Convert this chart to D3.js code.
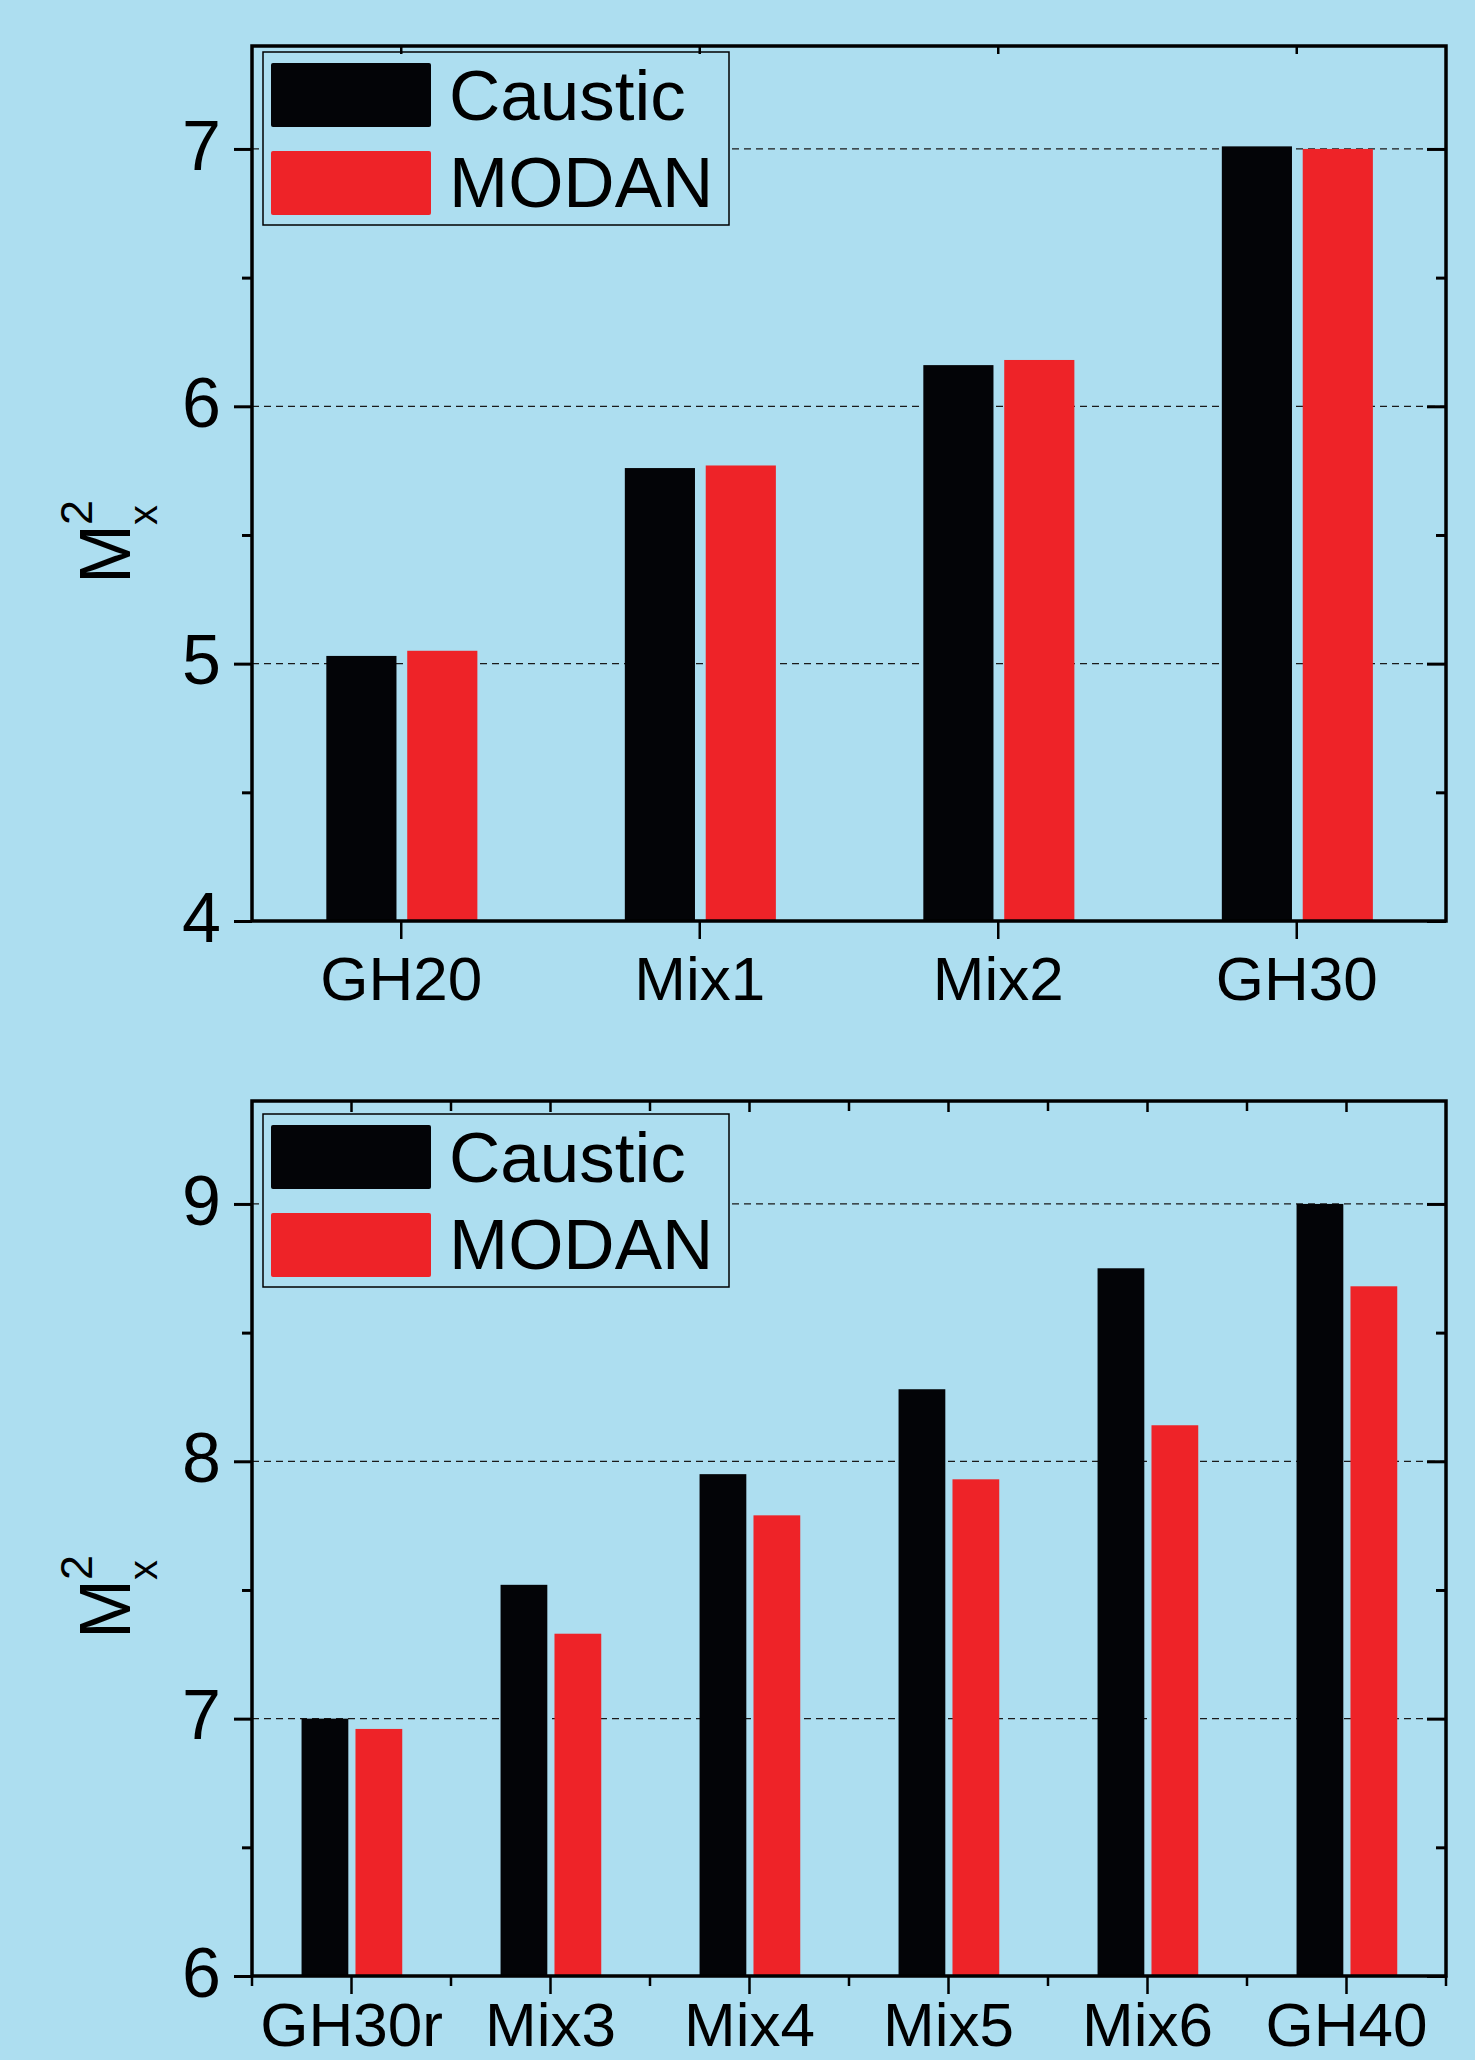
<!DOCTYPE html>
<html><head><meta charset="utf-8">
<script src="https://cdn.jsdelivr.net/npm/d3@7"></script>
<style>html,body{margin:0;padding:0;background:#ADDEF0;} svg{display:block}</style>
</head><body><svg id="c" width="1475" height="2060"></svg>
<script>
const seriesNames = ["Caustic", "MODAN"];
const seriesColors = ["#030407", "#EE2328"];

const topCategories = ["GH20", "Mix1", "Mix2", "GH30"];
const topCaustic = [5.03, 5.76, 6.16, 7.01];
const topModan = [5.05, 5.77, 6.18, 7.00];
const topDomain = [4, 7.4];
const topMajorTicks = [4, 5, 6, 7];
const topMinorTicks = [4.5, 5.5, 6.5];
const topGrid = [5, 6, 7];

const botCategories = ["GH30r", "Mix3", "Mix4", "Mix5", "Mix6", "GH40"];
const botCaustic = [7.00, 7.52, 7.95, 8.28, 8.75, 9.00];
const botModan = [6.96, 7.33, 7.79, 7.93, 8.14, 8.68];
const botDomain = [6, 9.4];
const botMajorTicks = [6, 7, 8, 9];
const botMinorTicks = [6.5, 7.5, 8.5];
const botGrid = [7, 8, 9];

const BG = "#ADDEF0";
const FONT = "'Liberation Sans', Arial, Helvetica, sans-serif";
const svg = d3.select("#c");
svg.append("rect").attr("width", 1475).attr("height", 2060).attr("fill", BG);

const L = 252, R = 1446;

function panel(cfg) {
  const g = svg.append("g").style("font-family", FONT);
  const x = d3.scaleBand().domain(cfg.cats).range([L, R]).padding(0);
  const y = d3.scaleLinear().domain(cfg.domain).range([cfg.bottom, cfg.top]);
  const b = x.bandwidth();

  // grid
  g.append("g").selectAll("line").data(cfg.grid).join("line")
    .attr("x1", L).attr("x2", R)
    .attr("y1", d => y(d)).attr("y2", d => y(d))
    .attr("stroke", "#1a1a1a").attr("stroke-width", 1.3)
    .attr("stroke-dasharray", "7,5");

  // legend (covers grid)
  const lg = g.append("g").attr("transform", `translate(263,${cfg.top + cfg.legendOff})`);
  lg.append("rect").attr("width", 466).attr("height", 173)
    .attr("fill", BG).attr("stroke", "#000").attr("stroke-width", 1.5);
  seriesNames.forEach((s, j) => {
    lg.append("rect").attr("x", 8).attr("y", 11 + j * 88)
      .attr("width", 160).attr("height", 64).attr("rx", 2)
      .attr("fill", seriesColors[j]);
    lg.append("text").attr("x", 186).attr("y", 68 + j * 87)
      .attr("font-size", 71).attr("fill", "#000").text(s);
  });

  // bars
  const rows = cfg.cats.map((c, i) => ({ cat: c, vals: cfg.series.map(arr => arr[i]) }));
  const x1 = d3.scaleBand().domain(seriesNames)
    .range([-0.251 * b, 0.255 * b]).paddingInner(0.133).paddingOuter(0);
  g.append("g").selectAll("g").data(rows).join("g")
    .attr("transform", d => `translate(${x(d.cat) + b / 2},0)`)
    .selectAll("rect").data(d => d.vals.map((v, j) => ({ v, s: seriesNames[j], j })))
    .join("rect")
    .attr("x", d => x1(d.s)).attr("width", x1.bandwidth())
    .attr("y", d => y(d.v)).attr("height", d => y(cfg.domain[0]) - y(d.v))
    .attr("fill", d => seriesColors[d.j]);

  function styleAxis(sel, sw) {
    sel.select(".domain").remove();
    sel.selectAll(".tick line").attr("stroke", "#000").attr("stroke-width", sw);
    sel.selectAll(".tick text").attr("fill", "#000").style("font-family", FONT);
  }

  // left axis
  const la = g.append("g").attr("transform", `translate(${L},0)`)
    .call(d3.axisLeft(y).tickValues(cfg.major).tickSize(18).tickPadding(13).tickSizeOuter(0).tickFormat(d3.format("d")));
  styleAxis(la, 3);
  la.selectAll(".tick text").attr("font-size", 70).attr("dy", "0.29em");
  const lm = g.append("g").attr("transform", `translate(${L},0)`)
    .call(d3.axisLeft(y).tickValues(cfg.minor).tickSize(10).tickSizeOuter(0).tickFormat(""));
  styleAxis(lm, 3);

  // right axis (inward)
  const ra = g.append("g").attr("transform", `translate(${R},0)`)
    .call(d3.axisLeft(y).tickValues(cfg.major).tickSize(19).tickSizeOuter(0).tickFormat(""));
  styleAxis(ra, 3);
  const rm = g.append("g").attr("transform", `translate(${R},0)`)
    .call(d3.axisLeft(y).tickValues(cfg.minor).tickSize(10).tickSizeOuter(0).tickFormat(""));
  styleAxis(rm, 3);

  // bottom axis
  const ba = g.append("g").attr("transform", `translate(0,${cfg.bottom})`)
    .call(d3.axisBottom(x).tickSize(18).tickPadding(cfg.labelPad).tickSizeOuter(0));
  styleAxis(ba, 2.5);
  ba.selectAll(".tick text").attr("font-size", 62);

  // top axis (inward)
  const ta = g.append("g").attr("transform", `translate(0,${cfg.top})`)
    .call(d3.axisBottom(x).tickSize(cfg.minorX ? 11 : 8).tickSizeOuter(0).tickFormat(""));
  styleAxis(ta, 2.5);

  if (cfg.minorX) {
    const bounds = d3.range(cfg.cats.length + 1).map(i => L + i * x.step());
    g.append("g").selectAll("line").data(bounds).join("line")
      .attr("x1", d => d).attr("x2", d => d)
      .attr("y1", cfg.bottom).attr("y2", cfg.bottom + 10)
      .attr("stroke", "#000").attr("stroke-width", 2.5);
    g.append("g").selectAll("line").data(bounds.slice(1, -1)).join("line")
      .attr("x1", d => d).attr("x2", d => d)
      .attr("y1", cfg.top).attr("y2", cfg.top + 10)
      .attr("stroke", "#000").attr("stroke-width", 2.5);
  }

  // frame
  g.append("rect").attr("x", L).attr("y", cfg.top)
    .attr("width", R - L).attr("height", cfg.bottom - cfg.top)
    .attr("fill", "none").attr("stroke", "#000").attr("stroke-width", 3.5);

  // y title: M with stacked superscript 2 and subscript x
  const ty = cfg.bottom - 337;
  g.append("text").attr("transform", `translate(130,${ty}) rotate(-90)`)
    .attr("font-size", 72).attr("fill", "#000").text("M");
  g.append("text").attr("transform", `translate(92,${ty - 59}) rotate(-90)`)
    .attr("font-size", 45).attr("fill", "#000").text("2");
  g.append("text").attr("transform", `translate(157,${ty - 59}) rotate(-90)`)
    .attr("font-size", 40).attr("fill", "#000").text("x");
}

panel({ cats: topCategories, series: [topCaustic, topModan], domain: topDomain,
  major: topMajorTicks, minor: topMinorTicks, grid: topGrid, top: 46, bottom: 921,
  minorX: false, legendOff: 6, labelPad: 17 });
panel({ cats: botCategories, series: [botCaustic, botModan], domain: botDomain,
  major: botMajorTicks, minor: botMinorTicks, grid: botGrid, top: 1101, bottom: 1976,
  minorX: true, legendOff: 13, labelPad: 8 });
</script></body></html>
